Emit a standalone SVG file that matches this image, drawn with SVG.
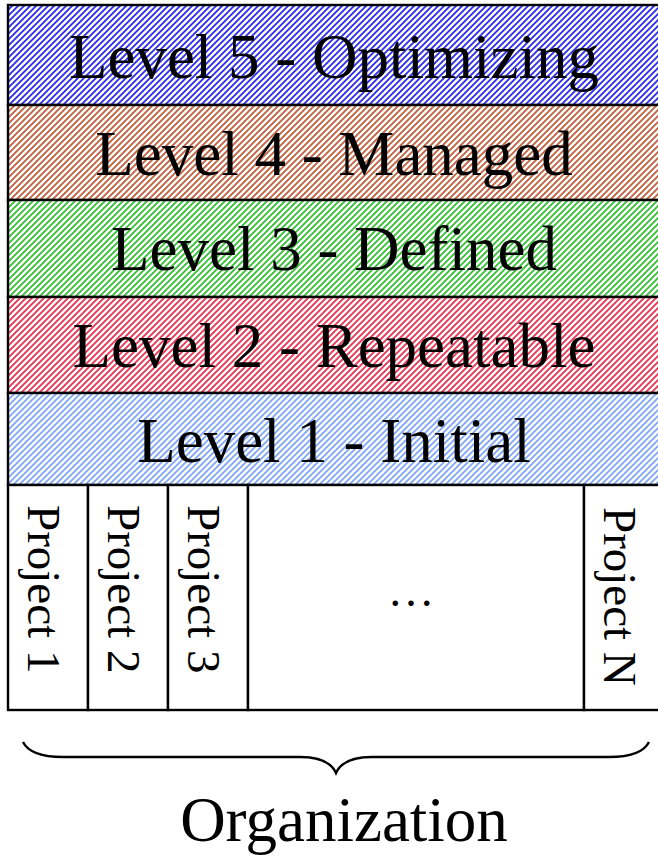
<svg xmlns="http://www.w3.org/2000/svg" width="658" height="856" viewBox="0 0 658 856">
  <defs>
    <pattern id="hatch-l5" patternUnits="userSpaceOnUse" width="6" height="6">
      <rect width="6" height="6" fill="#fff"/>
      <path d="M-1,1 l2,-2 M0,6 l6,-6 M5,7 l2,-2" stroke="#2a2aee" stroke-width="1.8"/>
    </pattern>
    <pattern id="hatch-l4" patternUnits="userSpaceOnUse" width="6" height="6">
      <rect width="6" height="6" fill="#fff"/>
      <path d="M-1,1 l2,-2 M0,6 l6,-6 M5,7 l2,-2" stroke="#c0603e" stroke-width="1.8"/>
    </pattern>
    <pattern id="hatch-l3" patternUnits="userSpaceOnUse" width="6" height="6">
      <rect width="6" height="6" fill="#fff"/>
      <path d="M-1,1 l2,-2 M0,6 l6,-6 M5,7 l2,-2" stroke="#34c034" stroke-width="1.8"/>
    </pattern>
    <pattern id="hatch-l2" patternUnits="userSpaceOnUse" width="6" height="6">
      <rect width="6" height="6" fill="#fff"/>
      <path d="M-1,1 l2,-2 M0,6 l6,-6 M5,7 l2,-2" stroke="#ee3050" stroke-width="1.8"/>
    </pattern>
    <pattern id="hatch-l1" patternUnits="userSpaceOnUse" width="6" height="6">
      <rect width="6" height="6" fill="#fff"/>
      <path d="M-1,1 l2,-2 M0,6 l6,-6 M5,7 l2,-2" stroke="#7fa6f2" stroke-width="1.8"/>
    </pattern>
  </defs>
  <style>
    .band { stroke: #000; stroke-width: 2.4; }
    .cell { fill: #fff; stroke: #000; stroke-width: 2.4; }
    .lvl { font-family: "Liberation Serif", "Times New Roman", serif; font-size: 63px; fill: #000; text-anchor: middle; }
    .proj { font-family: "Liberation Serif", "Times New Roman", serif; font-size: 47px; fill: #000; }
    .org { font-family: "Liberation Serif", "Times New Roman", serif; font-size: 63px; fill: #000; text-anchor: middle; }
  </style>

  <rect width="658" height="856" fill="#fff"/>

  <!-- maturity levels -->
  <g id="level5">
    <rect class="band" x="8" y="5" width="670" height="100" fill="url(#hatch-l5)"/>
    <text class="lvl" x="334" y="78">Level 5 - Optimizing</text>
  </g>
  <g id="level4">
    <rect class="band" x="8" y="105" width="670" height="95" fill="url(#hatch-l4)"/>
    <text class="lvl" x="334" y="175">Level 4 - Managed</text>
  </g>
  <g id="level3">
    <rect class="band" x="8" y="200" width="670" height="97" fill="url(#hatch-l3)"/>
    <text class="lvl" x="334" y="270">Level 3 - Defined</text>
  </g>
  <g id="level2">
    <rect class="band" x="8" y="297" width="670" height="96" fill="url(#hatch-l2)"/>
    <text class="lvl" x="334" y="367">Level 2 - Repeatable</text>
  </g>
  <g id="level1">
    <rect class="band" x="8" y="393" width="670" height="92" fill="url(#hatch-l1)"/>
    <text class="lvl" x="334" y="462">Level 1 - Initial</text>
  </g>

  <!-- projects -->
  <g id="project1">
    <rect class="cell" x="8" y="485" width="80" height="225"/>
    <text class="proj" transform="translate(28,505) rotate(90)">Project 1</text>
  </g>
  <g id="project2">
    <rect class="cell" x="88" y="485" width="80" height="225"/>
    <text class="proj" transform="translate(108,505) rotate(90)">Project 2</text>
  </g>
  <g id="project3">
    <rect class="cell" x="168" y="485" width="80" height="225"/>
    <text class="proj" transform="translate(188,505) rotate(90)">Project 3</text>
  </g>
  <g id="projects-more">
    <rect class="cell" x="248" y="485" width="336" height="225"/>
    <text class="proj" x="411" y="606" text-anchor="middle">…</text>
  </g>
  <g id="projectN">
    <rect class="cell" x="584" y="485" width="100" height="225"/>
    <text class="proj" transform="translate(604,507) rotate(90)">Project N</text>
  </g>

  <!-- brace spanning the projects -->
  <g id="connectors">
    <path d="M23,742 C28,752 40,757 63,757 L300,757 C322,757 332,764 336,773 C340,764 350,757 372,757 L609,757 C632,757 644,752 649,742" fill="none" stroke="#000" stroke-width="2.4"/>
  </g>

  <g id="organization">
    <text class="org" x="344" y="841">Organization</text>
  </g>
</svg>
